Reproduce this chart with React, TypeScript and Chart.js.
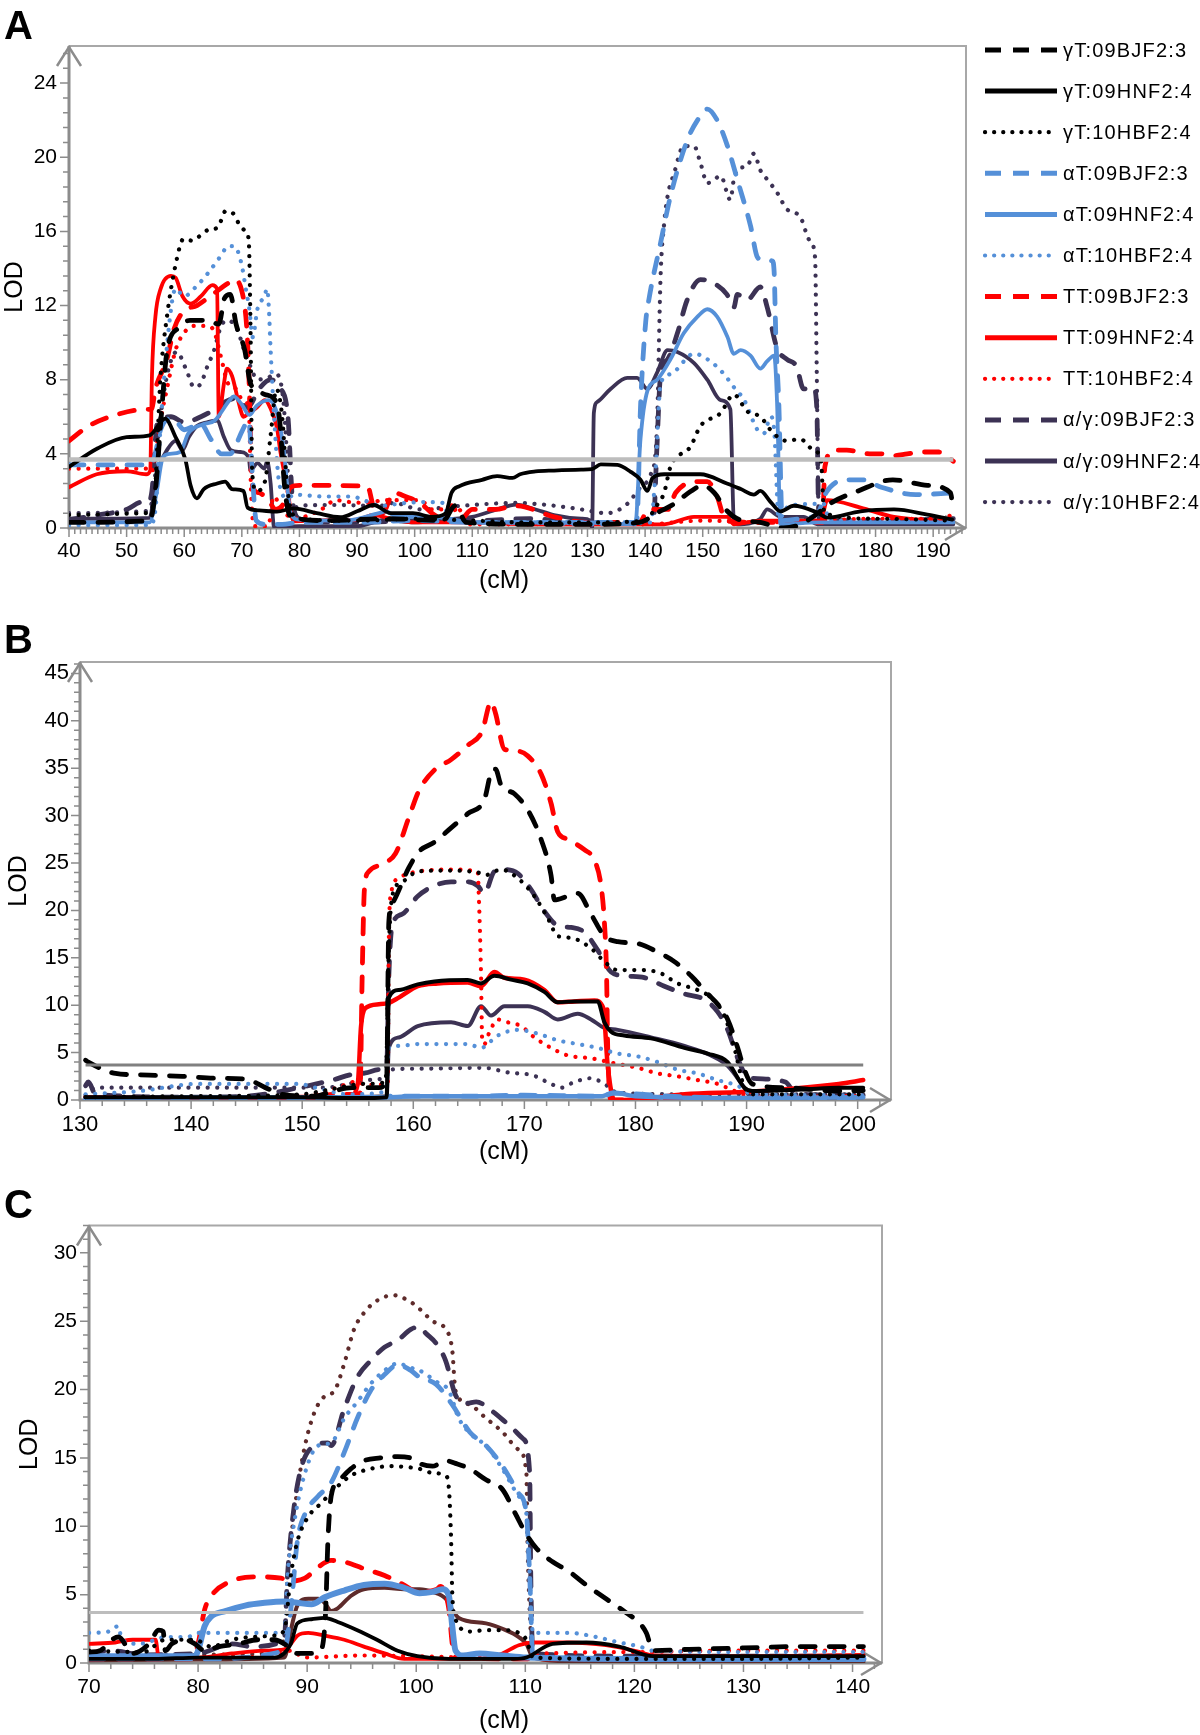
import React, { useEffect, useRef } from "react";
import { Chart, registerables } from "chart.js";

Chart.register(...registerables);

type Pt = [number, number];

// ---------------- labels / ticks ----------------
const SERIES_LABELS = [
  "γT:09BJF2:3", "γT:09HNF2:4", "γT:10HBF2:4",
  "αT:09BJF2:3", "αT:09HNF2:4", "αT:10HBF2:4",
  "TT:09BJF2:3", "TT:09HNF2:4", "TT:10HBF2:4",
  "α/γ:09BJF2:3", "α/γ:09HNF2:4", "α/γ:10HBF2:4",
];
const X_TITLE = "(cM)";
const Y_TITLE = "LOD";
const A_X_TICKS = [40, 50, 60, 70, 80, 90, 100, 110, 120, 130, 140, 150, 160, 170, 180, 190];
const A_Y_TICKS = [0, 4, 8, 12, 16, 20, 24];
const B_X_TICKS = [130, 140, 150, 160, 170, 180, 190, 200];
const B_Y_TICKS = [0, 5, 10, 15, 20, 25, 30, 35, 40, 45];
const C_X_TICKS = [70, 80, 90, 100, 110, 120, 130, 140];
const C_Y_TICKS = [0, 5, 10, 15, 20, 25, 30];
const LOD_THRESHOLD = 3.7;
const A_THRESH_X = [40, 193.5];
const B_THRESH_X = [130.5, 200.5];
const C_THRESH_X = [70, 141];

// ---------------- Panel A data (cM, LOD) ----------------
const A_gT_BJ: Pt[] = [[40,0.3],[54,0.4],[55,2],[56,6],[57,9.5],[59,10.8],[61,11.2],[64,11.2],[66,11],[67,12.4],[68,12.6],[69,11],[70.5,9.6],[71.5,7.8],[72.5,7.5],[74,7.2],[75.5,7],[76.5,6],[77.5,2],[78.5,0.6],[85,0.4],[95,0.5],[105,0.4],[107,1.2],[109,0.3],[120,0.2],[130,0.2],[139,0.3],[142,0.8],[145,1.3],[148,2],[150,2.3],[152,1.9],[154,1],[156,0.5],[160,0.3],[164,0],[167,0.2],[170,0.8],[172,1.3],[177,2],[183,2.6],[189,2.3],[193,1.9],[193.5,0.9]];
const A_gT_HN: Pt[] = [[40,3.3],[45,4.3],[50,4.9],[54,5.0],[56.7,5.9],[58.5,4.9],[60.2,3.7],[61.1,2.3],[62.2,1.6],[63.4,2.1],[65.7,2.4],[67.1,2.5],[68.3,2.1],[70.3,2.0],[71,1.1],[73,0.95],[76.1,0.88],[79,1.06],[83,0.8],[87.1,0.58],[90,0.9],[92.9,1.24],[95.8,0.8],[99.7,0.8],[103,0.6],[105.4,0.8],[106.4,1.9],[107.7,2.25],[111.7,2.6],[114.3,2.8],[117,2.7],[118.3,2.9],[121,3.05],[124.2,3.1],[128.9,3.15],[130.8,3.18],[132.3,3.43],[135.2,3.4],[137.5,3.03],[139.2,2.6],[140.4,2.0],[141.3,2.7],[143.3,2.9],[149.6,2.9],[154.2,2.4],[156.6,2.1],[158.9,1.8],[160,2.0],[161.8,1.4],[163.5,0.9],[165.8,1.2],[169.9,0.83],[171.6,0.56],[177.4,0.9],[183.2,1.0],[189,0.72],[193.3,0.45]];
const A_gT_HB: Pt[] = [[40,0.7],[53,0.8],[54.7,1.3],[55.9,8.2],[57,11.4],[58.5,14.2],[59.9,15.6],[61.4,15.5],[62.9,15.8],[64.3,16.1],[65.8,16.2],[67.2,17.1],[68.7,16.9],[69.5,16.4],[70.7,16],[71.2,15.5],[71.5,11],[71.8,3],[72.5,2],[74,2.5],[75,5],[76,7.5],[77,6],[77.8,2.5],[78.5,1],[80,0.5],[90,0.4],[100,0.5],[110,0.4],[120,0.3],[130,0.3],[140,0.4],[142,1.2],[143.3,1.9],[144.4,3.3],[147.9,4.4],[149.6,5.5],[153.1,6.2],[155.4,7.2],[157.7,6.3],[160,6.0],[162.3,5.1],[164.6,4.7],[166.9,4.8],[169.2,4.2],[170.5,3.7],[171.1,0.8],[180,0.5],[193.5,0.4]];
const A_aT_BJ: Pt[] = [[40,3.4],[54,3.4],[54.8,3.8],[55.9,5.3],[57.5,5.9],[58.5,5.8],[60,5.3],[61.7,5.5],[62.9,5.6],[64.6,4.8],[66.5,4.0],[68,4.0],[69,4.5],[70,5.2],[71.2,5.8],[71.8,3],[72.5,0.4],[74,0.2],[77,0.2],[80,0.3],[90,0.3],[100,0.4],[110,0.3],[120,0.3],[130,0.3],[138,0.3],[138.6,0.5],[139.2,6.5],[140.1,11.1],[140.7,12.4],[142.7,15.4],[144.4,17.9],[147.3,20.9],[149.1,22],[150.8,22.6],[152.5,22],[154.3,20.6],[156,18.8],[158.3,16.3],[159.5,14.6],[160.1,14.5],[162.1,14.4],[162.4,13.8],[162.7,10.2],[163.2,6.8],[163.8,0.4],[167,0.5],[170,0.8],[171.4,1.9],[174.9,2.6],[177.7,2.6],[181,2.2],[187,1.8],[193.5,1.9]];
const A_aT_HN: Pt[] = [[40,0.3],[54,0.3],[55.2,1.9],[56.3,3.8],[57.5,4.0],[59.3,4.1],[60.7,5.1],[63.3,5.6],[65.3,5.8],[67.9,6.9],[68.6,7.1],[69.9,6.7],[71.3,6.1],[72.6,6.6],[74.6,6.9],[75.9,6.4],[77.2,4.4],[78.5,0.8],[79.9,0.45],[88,0.4],[93.8,0.8],[95,0.9],[97,0.6],[103,0.6],[106,0.5],[110,0.3],[120,0.3],[130,0.3],[138.3,0.2],[139.2,4.8],[140.4,7.4],[142.1,8],[144.4,9.1],[146.7,10.5],[149.1,11.4],[150.8,11.8],[152.5,11.4],[154.3,10.3],[155.4,9.4],[156.6,9.6],[158.3,9.3],[160,8.6],[161.2,9.0],[162.4,9.3],[162.9,6.8],[163.5,0.2],[170,0.3],[180,0.3],[193.5,0.3]];
const A_aT_HB: Pt[] = [[40,0.15],[54,0.15],[55,1],[56,6],[57.7,11.8],[58.5,12.9],[60,12.5],[62,13.0],[64,13.7],[66.4,14.7],[67.6,15.2],[68.7,15.2],[69.9,14.3],[70.7,12.9],[71.3,11.8],[71.9,10.3],[72.7,11.8],[73.9,12.5],[74.4,12.9],[74.7,11.8],[75,9.6],[75.6,6.0],[76.5,2.4],[78,1.6],[79,1.8],[84.6,1.7],[88.8,1.7],[94.4,1.2],[97,1.3],[101,1.4],[105,1.35],[106,0.4],[110,0.3],[120,0.3],[130,0.2],[141,0.3],[141.8,3],[142.7,7.8],[144.4,8.3],[148.5,9.4],[151.3,9.0],[153.7,8.3],[155.4,7.6],[157.2,6.9],[159.5,5.3],[160.6,5.1],[161.8,6.0],[162.4,5.3],[163.2,0.5],[165,1.2],[171,1.3],[172,0.4],[193.5,0.35]];
const A_TT_BJ: Pt[] = [[40,4.7],[43.4,5.5],[48.1,6.1],[53.4,6.4],[54.3,6.4],[55,7.5],[57,9.1],[58.2,10.7],[59.9,11.7],[62.2,12.0],[64.5,12.5],[67.6,13.2],[68.7,13.4],[69.9,12.9],[70.7,11.4],[71,10],[71.3,7.5],[71.6,3.9],[71.9,2.2],[73,1.9],[74.6,1.5],[75.9,1.0],[77,1.2],[78.5,2.2],[80,2.3],[91.8,2.25],[93,1.0],[94.4,0.8],[96.4,1.9],[98.4,1.7],[101,1.35],[103,0.8],[105,0.5],[106.4,1.2],[108,0.5],[110,1.0],[114,1.0],[117.6,1.2],[124.2,0.6],[130,0.3],[139,0.3],[140.6,1.0],[144,1.0],[145.3,1.9],[149.4,2.5],[150.8,2.5],[152.5,1.7],[154,0.4],[160,0.3],[170.8,0.3],[171.2,3.3],[172.8,4.2],[175,4.2],[179,4.0],[181.5,4.0],[183,3.9],[185.5,4.0],[188,4.1],[191,4.1],[193.5,3.6]];
const A_TT_HN: Pt[] = [[40,2.2],[44.8,2.9],[50,3.06],[53.4,2.9],[54.1,3.1],[54.4,8.2],[55,11.4],[55.9,12.9],[57.7,13.6],[58.5,13.5],[59.7,12.5],[61.1,12.1],[62.9,12.5],[64.9,13.1],[65.7,12.9],[66,6.0],[66.9,7.8],[67.4,8.6],[68.3,8.2],[69.5,6.7],[70.3,6.0],[71.2,6.2],[72.6,6.5],[74,6.9],[74.9,6.5],[76.1,5.4],[76.7,4.1],[77.8,2.3],[79,0.36],[85,0.43],[90,0.45],[92.9,0.7],[95.8,0.5],[100,0.3],[110,0.3],[120,0.2],[130,0.2],[140,0.2],[143.3,0.2],[148.5,0.6],[154.3,0.6],[155.4,0.2],[160,0.4],[170.5,0.4],[171.6,1.5],[177.4,1.1],[183.2,0.6],[193.3,0.35]];
const A_TT_HB: Pt[] = [[40,3.2],[53.4,3.2],[54.3,3.0],[55,4],[56,6],[57,7.5],[58.5,9.6],[59.9,10.5],[61.7,10.9],[64,10.9],[65.2,10.6],[66.4,9.2],[67.6,7.8],[68.7,7.6],[70.2,6.9],[71.2,6.5],[71.6,2],[72.1,0.1],[74.6,0.1],[75.5,1.7],[77,1.0],[79,0.5],[83.8,1.0],[86.3,1.5],[88.7,1.4],[91.8,1.35],[94.6,1.5],[97.7,1.5],[101,1.5],[103,1.0],[107.7,1.0],[109,0.2],[120,0.2],[130,0.3],[140,0.2],[150,0.4],[160,0.3],[170,0.4],[180,0.5],[190,0.5],[193.5,0.7]];
const A_ag_BJ: Pt[] = [[40,0.45],[45,0.7],[50,1.0],[52.7,1.4],[53.7,1.4],[54.4,2],[55.3,5.6],[57.7,6.0],[60,5.7],[62.9,6.0],[65.8,6.5],[67.1,6.8],[69,7],[71,6.5],[73,7.5],[75,8],[76.5,7.6],[78,6],[78.8,1.5],[80,0.5],[90,0.3],[100,0.4],[110,0.4],[120,0.5],[130,0.3],[140,0.3],[141.5,0.6],[142,4],[142.7,8.3],[143.9,9.1],[145.6,10.5],[147.3,12.3],[149.6,13.4],[151.3,13.3],[154.2,12.6],[155.4,11.9],[156,12.6],[157.7,12.3],[160,13],[161.2,11.9],[162.9,9.7],[164.6,9.1],[166.3,8.7],[167.5,7.5],[169.2,7.6],[169.8,6.5],[170.1,1.1],[170.4,0.4],[180,0.4],[193.5,0.5]];
const A_ag_HN: Pt[] = [[40,0.5],[54,0.55],[55,2.4],[55.9,3.5],[57,4.2],[58.5,4.7],[59.7,4.2],[60.8,4.9],[62.2,5.5],[64,5.7],[65.7,5.8],[66.9,4.9],[68.1,4.2],[69.8,4.1],[71.2,3.8],[71.5,3.1],[72.7,3.5],[73.9,3.2],[74.4,3.6],[75,2.4],[75.6,0.05],[80,0.1],[90,0.1],[95,0.45],[100,0.3],[105,0.45],[110,0.6],[114.3,1.0],[117.6,1.26],[121,1.0],[124.2,0.7],[128.9,0.5],[130.5,0.4],[130.8,0.0],[131.1,6.2],[131.7,6.8],[134,7.5],[136.9,8.1],[138.6,8.1],[140.4,7.5],[142.1,8.4],[143.9,9.6],[145.6,9.5],[148.5,8.9],[150.8,8.0],[153.1,6.9],[154.8,6.4],[155.4,0.4],[156,0.2],[160,0.5],[161.2,1.0],[163.5,0.6],[167.5,0.6],[169.9,0.2],[193.5,0.2]];
const A_ag_HB: Pt[] = [[40,0.8],[53,0.9],[54.5,1.5],[55.5,5],[57,8.2],[58.7,9.5],[60.4,8.5],[61.7,7.6],[62.9,7.8],[64,8.7],[65.2,9.6],[66.4,10.9],[67.6,11.2],[69.2,10.7],[70.4,9.6],[71.5,8.7],[72.7,8.0],[74.4,8.1],[76,8.3],[77.2,6.9],[77.8,4.1],[78.4,0.9],[80,1.2],[86.1,1.24],[94,1.2],[96.4,1.35],[101,1.0],[108,1.2],[117.6,1.35],[124.2,1.2],[129,1.0],[133.4,0.8],[136.9,1.3],[139.2,2.2],[141,2.9],[142,5],[142.7,13.7],[143.3,16.4],[143.9,17.9],[145,19.1],[146.7,20.6],[148.5,20.6],[149.6,19.7],[150.8,18.6],[152,18.8],[153.1,19.0],[154.8,17.7],[155.4,18.8],[156.3,19.4],[157.7,19.5],[158.9,20.2],[160,19.3],[161.2,18.8],[162.9,18.1],[164.6,17.2],[166.9,16.8],[168.6,15.5],[169.5,14.6],[169.8,8.3],[170.1,1.1],[170.4,0.3],[180,0.4],[193.5,0.3]];

// ---------------- Panel B data ----------------
const B_gT_BJ: Pt[] = [[130.5,4.2],[130.75,4.0],[133.2,2.8],[135.3,2.66],[139.2,2.5],[142.2,2.3],[144.9,2.2],[146.7,1.3],[148.2,0.6],[151.2,0.4],[152.7,0.9],[154.5,1.3],[156.9,1.3],[157.6,2.1],[157.8,18.8],[158.1,20.7],[159.6,24.5],[160.5,26.2],[161.9,27.2],[163.4,28.7],[164.9,30.2],[166.4,31.7],[167.1,34.8],[167.4,34.9],[167.9,33.2],[169.1,32.3],[170.3,30.6],[171.5,27.5],[172.4,23.7],[172.7,21.1],[173.9,21.5],[174.8,21.8],[176,19.6],[177.2,17.3],[178.4,16.7],[180.2,16.5],[182,15.6],[183.5,14.6],[185,13.1],[186.5,11.2],[187.4,10.1],[188.3,8.5],[189.2,5.5],[189.8,3.2],[190.5,1.7],[193.5,1.3],[198.3,0.95],[200.5,1.0]];
const B_gT_HN: Pt[] = [[130.5,0.3],[140,0.3],[150,0.3],[155,0.2],[157.6,0.3],[157.8,10.8],[158.7,11.6],[160.4,12.2],[161.9,12.5],[164.9,12.65],[166.1,12.3],[167.3,13.1],[168.8,12.7],[170.3,12.3],[171.8,11.4],[173,10.3],[174.5,10.4],[176.6,10.4],[177.2,8.2],[177.8,7.2],[179,6.8],[181.4,6.5],[184.4,5.5],[186.5,4.9],[188.3,4.0],[189.8,1.3],[190.5,0.95],[195,1.1],[198.3,1.3],[200.5,1.3]];
const B_gT_HB: Pt[] = [[130.5,0.3],[140,0.4],[150,0.6],[152,1.0],[155.7,1.7],[157.5,1.9],[157.8,16],[158.1,21.5],[159,23],[160.4,24.1],[163,24.2],[165.8,24.0],[166.4,23.7],[167.9,24.3],[169.4,23.4],[170.9,21.5],[172.1,19.2],[173,17.3],[174.2,17.1],[176,16.0],[177.2,14.6],[178.4,13.7],[180.2,13.7],[182,13.5],[183.8,12.3],[185.6,11.6],[186.8,10.8],[188,8.9],[188.9,5.5],[189.7,1.7],[190.5,0.6],[200.5,0.6]];
const B_aT_BJ: Pt[] = [[130.5,0.1],[140,0.2],[150,0.2],[157,0.2],[158,0.4],[165,0.4],[170,0.5],[177,0.4],[178,0.7],[185,0.3],[190,0.2],[200.5,0.2]];
const B_aT_HN: Pt[] = [[130.5,0.2],[140,0.3],[150,0.3],[157.8,0.3],[160,0.4],[170,0.4],[177,0.4],[178,0.8],[180,0.4],[190,0.2],[200.5,0.3]];
const B_aT_HB: Pt[] = [[130.5,0.6],[135,0.9],[140.7,1.7],[149.7,1.7],[151.2,1.3],[154.2,0.6],[157.5,0.9],[157.8,5.5],[158.7,5.7],[160.4,5.9],[164.9,5.9],[166.1,5.5],[167.6,6.8],[169.4,7.4],[171.2,7.0],[173,6.3],[174.8,5.9],[176.6,5.5],[178.4,4.9],[180.2,4.6],[182,4.0],[183.8,3.2],[185.6,2.8],[187.4,2.1],[189.2,1.5],[190.5,0.6],[200.5,0.5]];
const B_TT_BJ: Pt[] = [[130.5,0.2],[140,0.2],[150,0.3],[153,0.6],[155.2,0.6],[155.4,13.1],[155.6,22.2],[156,24.1],[157.2,24.9],[158.4,26],[159.6,29.8],[160.5,32.6],[161.9,34.8],[163.4,35.9],[164.9,37.4],[166.2,38.9],[167,42.0],[167.4,40.8],[168.2,37],[169.4,36.8],[170.3,36.3],[171.5,34.4],[172.4,31.3],[173,28.3],[173.9,27.5],[175.4,26.4],[176.3,25.3],[176.9,22.6],[177.2,18.8],[177.4,13.1],[177.5,5.5],[177.8,0],[185,0.1],[190,0.2],[200.5,0.4]];
const B_TT_HN: Pt[] = [[130.5,0.3],[140,0.3],[150,0.2],[154,0],[155,1.7],[155.3,7.8],[155.7,9.7],[156.9,10.1],[157.8,10.25],[158.7,10.8],[160.4,12.0],[162.2,12.3],[164.9,12.4],[166.1,12.0],[167.3,13.5],[168.2,12.9],[170,12.7],[171.8,11.6],[173,10.3],[174.5,10.4],[176.3,10.5],[177.1,9.7],[177.5,3.6],[178.1,0],[179,0],[184.4,0.6],[190.5,0.9],[198.3,1.7],[200.5,2.1]];
const B_TT_HB: Pt[] = [[130.5,0.3],[140,0.3],[150,0.5],[152.1,0.9],[153.6,1.5],[154.7,1.9],[156,1.6],[157.7,1.7],[157.8,16.9],[158,21.8],[158.7,23.4],[160.4,24.1],[163.4,24.3],[165.8,24.1],[165.9,21.5],[166.1,13.1],[166.2,6.3],[166.4,5.9],[166.8,7.0],[167.6,8.5],[168.5,8.2],[169.7,7.8],[170.9,6.6],[172.4,5.5],[173.9,4.7],[176,4.4],[178.4,3.8],[180.2,3.4],[182,2.8],[183.8,2.5],[185.6,2.1],[187.4,1.7],[188.9,0.95],[190.5,0.4],[200.5,0.4]];
const B_ag_BJ: Pt[] = [[130.5,1.5],[130.75,1.9],[131.4,0.6],[140,0.3],[145,0.4],[149.7,1.3],[152.7,2.1],[154.5,2.7],[155.7,2.85],[156.9,3.2],[157.6,3.3],[157.8,13.1],[158.1,18.4],[159,19.6],[160.4,21.5],[161.9,22.6],[163.4,23.0],[164.9,23.0],[165.8,22.6],[166.4,21.8],[167.3,24.1],[168.2,24.3],[169.4,23.9],[170.6,22.2],[171.8,19.9],[173,18.4],[174.2,18.2],[175.4,17.7],[176.6,15.8],[177.8,13.5],[179,13.1],[180.8,12.9],[182.6,12.0],[184.4,11.2],[186.2,10.6],[187.4,9.3],[188.3,7.4],[189.2,4.4],[190,2.5],[190.5,2.3],[193.5,1.9],[194.5,0.6],[200.5,0.5]];
const B_ag_HN: Pt[] = [[130.5,0.3],[140,0.3],[150,0.3],[157.6,0.4],[157.8,5.5],[158.7,6.6],[160.4,7.8],[163.4,8.2],[164.9,7.8],[166.1,9.9],[167,8.9],[168.2,9.9],[170.3,9.9],[171.8,9.3],[173,8.5],[174.8,9.1],[176,8.5],[177.2,7.6],[178.4,7.4],[181.4,6.6],[184.4,5.7],[186.8,4.7],[188.3,3.6],[189.8,1.3],[190.5,0.2],[200.5,0.3]];
const B_ag_HB: Pt[] = [[130.5,0.5],[131.4,1.3],[140,1.3],[152,1.3],[154.2,1.7],[155.7,2.1],[157.6,2.4],[157.8,3.2],[160.4,3.3],[166.4,3.4],[167.6,3.15],[168.8,2.85],[170.6,2.66],[172.4,1.7],[173.3,1.3],[174.5,1.9],[176,2.3],[177.2,1.7],[178.4,0.76],[185,0.6],[200.5,0.6]];

// ---------------- Panel C data ----------------
const C_gT_BJ: Pt[] = [[70,0.8],[71,0.9],[72.1,1.7],[72.7,1.9],[74,0.7],[75.5,1.4],[76.4,2.4],[76.8,2.3],[77,0.9],[77.6,1.4],[78.8,1.7],[79.7,1.4],[80.6,0.9],[81.9,1.2],[83.7,1.4],[85.5,1.7],[87,1.7],[87.9,1.4],[89.1,0.7],[90.4,0.7],[91.3,1.0],[91.7,3.9],[91.9,8.9],[92.2,12.2],[92.8,13.2],[94,14.2],[95.2,14.8],[96.7,15.0],[98.3,15.1],[99.8,14.9],[100.3,14.6],[101.5,14.4],[102.7,14.8],[103.6,14.6],[104.9,14.2],[106.4,13.4],[107.9,12.7],[109.1,10.9],[110.1,9.4],[111,8.4],[112.5,7.4],[114,6.7],[115.6,5.7],[117.4,4.7],[119.2,3.7],[120.5,2.9],[121.1,2.2],[121.7,0.9],[125,1.0],[130,1.1],[135,1.2],[141,1.2]];
const C_gT_HN: Pt[] = [[70,0.3],[76,0.3],[80,0.4],[87,0.4],[88.5,1.4],[89.1,2.9],[90.4,3.2],[91.6,3.3],[92.8,3.0],[94.6,2.4],[96.4,1.7],[98.3,0.9],[100.1,0.5],[103,0.3],[109,0.3],[110.1,0.4],[112.5,1.4],[115.6,1.5],[118.6,1.2],[121.7,0.5],[130,0.5],[141,0.5]];
const C_gT_HB: Pt[] = [[70,0.9],[75,0.8],[77,1.7],[79.7,1.7],[81.2,1.2],[83.1,1.7],[84.9,1.9],[87,2.0],[87.9,2.4],[88.5,6.4],[89.1,8.9],[90.1,10.7],[91.3,11.7],[92.5,12.7],[94,13.7],[95.8,14.2],[97.7,14.4],[99.5,14.3],[100.3,14.2],[101.5,13.9],[102.7,13.7],[103,12.7],[103.2,8.9],[103.3,5.2],[103.6,3.2],[104.9,2.3],[106.4,2.4],[108.2,2.4],[109.4,2.2],[110.1,1.7],[110.7,0.4],[120,0.3],[130,0.3],[141,0.4]];
const C_aT_BJ: Pt[] = [[70,0.3],[80,0.3],[87.9,0.9],[88.5,3.9],[89.1,8.9],[89.8,10.9],[91,12.2],[92.2,13.2],[93.4,15.4],[94.6,17.9],[95.8,19.9],[97.1,21.1],[98.3,21.8],[99.5,21.4],[100.3,20.9],[101.8,20.4],[103.3,18.9],[104.9,16.9],[106.4,15.9],[107.9,14.4],[109.4,12.4],[110.1,10.9],[110.4,6.4],[110.7,0.4],[120,0.3],[130,0.3],[141,0.3]];
const C_aT_HN: Pt[] = [[70,0.5],[79.7,0.5],[80,0.9],[80.6,2.7],[81.2,3.4],[82.5,3.8],[84.3,4.2],[86.1,4.4],[87.9,4.5],[89.1,4.4],[90.4,4.3],[91.6,4.8],[93.4,5.3],[95.2,5.7],[97.1,5.8],[98.9,5.5],[100.3,5.1],[101.5,5.2],[102.4,5.4],[103,4.9],[103.3,2.7],[103.6,0.9],[104.3,0.55],[105.8,0.7],[107.9,0.55],[110.1,0.4],[120,0.3],[130,0.3],[141,0.3]];
const C_aT_HB: Pt[] = [[70,2.2],[71.8,2.3],[72.7,2.7],[73,1.7],[74.6,1.4],[76.1,1.7],[77,1.9],[79,1.9],[80,2.2],[87.9,2.2],[88.2,6.4],[88.8,10.2],[89.8,13.9],[91,15.9],[92.2,16.1],[93.4,17.9],[94.6,19.1],[95.8,20.4],[97.1,21.4],[98.3,21.9],[99.5,21.6],[100.3,21.4],[101.8,20.6],[103,19.9],[103.9,17.9],[105.2,16.6],[106.4,15.9],[107.9,14.2],[109.4,12.2],[110.1,10.9],[110.4,6.4],[110.7,2.2],[111.9,2.2],[114,2.2],[116.5,1.9],[118.6,1.5],[120.5,1.2],[121.7,0.9],[130,0.8],[141,0.8]];
const C_TT_BJ: Pt[] = [[70,0.3],[79.5,0.3],[80,1.4],[80.6,3.9],[81.2,4.9],[83.1,6.0],[85.5,6.3],[87.6,6.2],[88.5,6.0],[89.8,6.2],[91,7.0],[92.2,7.5],[93.4,7.4],[95.2,6.9],[97.1,6.4],[98.9,5.7],[100.1,5.2],[101.9,5.4],[102.2,5.6],[103,3.9],[103.3,1.4],[103.6,0.4],[110,0.3],[120,0.3],[130,0.3],[141,0.3]];
const C_TT_HN: Pt[] = [[70,1.4],[72.4,1.5],[74,1.7],[76.1,1.7],[76.4,0.4],[80,0.4],[83.1,0.7],[86.1,0.9],[87.9,1.0],[88.5,1.4],[89.1,2.0],[90.1,2.2],[91.6,2.0],[93.4,1.7],[95.2,1.2],[97.1,0.7],[98.9,0.3],[106,0.3],[107.9,0.7],[109.4,1.3],[110.7,1.5],[114,1.5],[117.4,1.3],[120.5,0.8],[121.7,0.55],[130,0.5],[141,0.6]];
const C_TT_HB: Pt[] = [[70,0.4],[80,0.4],[87,0.5],[88.5,0.9],[89.8,0.4],[95,0.55],[100,0.5],[105,0.4],[110,0.4],[112,0.7],[120,0.8],[130,0.9],[141,0.9]];
const C_ag_BJ: Pt[] = [[70,0.7],[72,0.9],[75,0.6],[80,0.7],[83.1,1.4],[84.9,1.2],[87.9,1.7],[88.2,6.4],[88.8,11.4],[89.5,14.4],[90.7,15.9],[91.9,16.1],[92.2,15.9],[93.4,18.6],[94.6,20.9],[95.8,22.1],[97.1,23.1],[98.3,23.6],[99.5,24.4],[100.3,24.6],[100.9,24.1],[101.8,23.4],[102.7,22.1],[103.6,19.6],[104.6,19.0],[105.5,19.1],[107,18.4],[108.5,17.4],[109.8,16.4],[110.4,13.9],[110.5,6.4],[110.7,0.7],[120,0.5],[130,0.5],[141,0.5]];
const C_ag_HN: Pt[] = [[70,0.2],[80,0.25],[87.9,0.4],[88.5,2.4],[89.1,4.2],[90.1,4.7],[91,4.7],[91.6,4.4],[92.2,3.8],[92.8,4.0],[94,4.9],[95.2,5.4],[97.1,5.5],[98.9,5.4],[100.3,5.4],[101.5,5.2],[102.7,4.7],[103.3,3.9],[103.9,3.3],[106.4,2.9],[108.2,2.4],[109.4,1.9],[110.1,1.4],[110.7,0.4],[115,0.1],[141,0.1]];
const C_ag_HB: Pt[] = [[70,0.6],[80,0.6],[87,0.7],[87.9,1.9],[88.2,6.4],[88.5,8.9],[89.1,12.7],[89.8,15.9],[90.7,18.4],[91.6,19.5],[92.5,19.9],[93.4,21.9],[94.3,24.4],[95.2,25.6],[96.4,26.5],[97.9,26.9],[99.5,26.4],[100.3,25.9],[101.5,25.0],[102.7,24.4],[103.3,22.9],[103.6,19.9],[104.9,18.9],[106.4,17.9],[107.9,16.9],[109.4,15.6],[110.1,13.9],[110.2,8.9],[110.4,3.9],[110.7,0.4],[120,0.3],[141,0.3]];

// ---------------- styling ----------------
const FONT = "'Liberation Sans', Arial, Helvetica, sans-serif";
const BLACK = "#000000";
const BLUE = "#5590D8";
const RED = "#FF0000";
const PURPLE = "#3C3254";
const BROWN = "#5E2B2B";
const KINDS = ["dash", "solid", "dot", "dash", "solid", "dot", "dash", "solid", "dot", "dash", "solid", "dot"];
const COLORS_AB = [BLACK, BLACK, BLACK, BLUE, BLUE, BLUE, RED, RED, RED, PURPLE, PURPLE, PURPLE];
const COLORS_C = [BLACK, BLACK, BLACK, BLUE, BLUE, BLUE, RED, RED, RED, PURPLE, BROWN, BROWN];

const framePlugin: any = {
  id: "frame",
  beforeDatasetsDraw(chart: any, _a: any, o: any) {
    const { ctx, chartArea } = chart;
    const { left, top, right, bottom } = chartArea;
    const xs = chart.scales.x;
    const ys = chart.scales.y;
    ctx.save();
    ctx.lineCap = "butt";
    ctx.strokeStyle = "#8c8c8c";
    ctx.lineWidth = 1.5;
    ctx.beginPath();
    const ny = Math.floor((ys.max - ys.min) / o.yMinor + 1e-6);
    for (let i = 0; i <= ny; i++) {
      const v = ys.min + i * o.yMinor;
      const p = ys.getPixelForValue(v);
      const major = o.yMajor.some((m: number) => Math.abs(m - v) < 1e-6);
      ctx.moveTo(left - (major ? 9 : 6), p);
      ctx.lineTo(left, p);
    }
    const nx = Math.floor((xs.max - xs.min) / o.xMinor + 1e-6);
    for (let i = 0; i <= nx; i++) {
      const v = xs.min + i * o.xMinor;
      const p = xs.getPixelForValue(v);
      const major = o.xMajor.some((m: number) => Math.abs(m - v) < 1e-6);
      ctx.moveTo(p, bottom);
      ctx.lineTo(p, bottom + (major ? 9 : 6));
    }
    ctx.stroke();
    ctx.strokeStyle = "#a8a8a8";
    ctx.lineWidth = 2;
    ctx.beginPath();
    ctx.moveTo(left, top);
    ctx.lineTo(right, top);
    ctx.lineTo(right, bottom);
    ctx.stroke();
    ctx.strokeStyle = "#8c8c8c";
    ctx.lineWidth = 3;
    ctx.beginPath();
    ctx.moveTo(left, bottom);
    ctx.lineTo(left, top);
    ctx.moveTo(left - 1.5, bottom);
    ctx.lineTo(right, bottom);
    ctx.stroke();
    ctx.lineWidth = 2.5;
    ctx.beginPath();
    ctx.moveTo(left - 12, top + 20);
    ctx.lineTo(left, top + 1);
    ctx.lineTo(left + 12, top + 20);
    ctx.moveTo(right - 21, bottom - 12);
    ctx.lineTo(right - 1, bottom);
    ctx.lineTo(right - 21, bottom + 12);
    ctx.stroke();
    ctx.restore();
  },
  afterDraw(chart: any, _a: any, o: any) {
    const ctx = chart.ctx;
    ctx.save();
    ctx.fillStyle = "#000";
    ctx.font = "bold 40px " + FONT;
    ctx.textBaseline = "alphabetic";
    ctx.textAlign = "left";
    ctx.fillText(o.letter, 4, o.letterBaseline);
    // x-axis title
    ctx.font = "25px " + FONT;
    ctx.textAlign = "center";
    ctx.textBaseline = "middle";
    ctx.fillText(o.xTitle, o.xTitleX, o.xTitleY);
    if (o.legend) {
      const items = chart.data.datasets.filter((d: any) => d.kind);
      items.forEach((d: any, i: number) => {
        const y = o.legendY0 + i * o.legendStep;
        ctx.save();
        ctx.strokeStyle = d.borderColor;
        if (d.kind === "dash") {
          ctx.lineWidth = 5;
          ctx.setLineDash([16, 12]);
          ctx.lineCap = "butt";
        } else if (d.kind === "dot") {
          ctx.lineWidth = 4.2;
          ctx.setLineDash([0.1, 9]);
          ctx.lineCap = "round";
        } else {
          ctx.lineWidth = 5;
          ctx.setLineDash([]);
          ctx.lineCap = "butt";
        }
        ctx.beginPath();
        ctx.moveTo(o.legendX0, y);
        ctx.lineTo(o.legendX1, y);
        ctx.stroke();
        ctx.restore();
        ctx.save();
        ctx.fillStyle = "#000";
        ctx.font = "20px " + FONT;
        ctx.textAlign = "left";
        ctx.textBaseline = "middle";
        try { (ctx as any).letterSpacing = "1.2px"; } catch (e) { /* ignore */ }
        ctx.fillText(d.label, o.legendTextX, y + 1);
        ctx.restore();
      });
    }
    ctx.restore();
  },
};

interface PanelCfg {
  top: number;
  height: number;
  letter: string;
  letterBaseline: number;
  series: Pt[][];
  colors: string[];
  solidWidths: number[];
  xMin: number; xMax: number; yMax: number;
  xTicks: number[]; yTicks: number[];
  xMinor: number; yMinor: number;
  threshX: number[]; threshColor: string; threshWidth: number;
  yAxisWidth: number; xAxisHeight: number; padTop: number; padRight: number;
  tickFont: number; tickPadX: number; tickPadY: number; lodPad: number;
  xTitleY: number;
  legend: boolean;
}

const PANEL_A: PanelCfg = {
  top: 0, height: 610, letter: "A", letterBaseline: 39,
  series: [A_gT_BJ, A_gT_HN, A_gT_HB, A_aT_BJ, A_aT_HN, A_aT_HB, A_TT_BJ, A_TT_HN, A_TT_HB, A_ag_BJ, A_ag_HN, A_ag_HB],
  colors: COLORS_AB, solidWidths: [3.8, 3.8, 3.8, 3.8],
  xMin: 40, xMax: 195.7, yMax: 26, xTicks: A_X_TICKS, yTicks: A_Y_TICKS, xMinor: 1, yMinor: 0.8,
  threshX: A_THRESH_X, threshColor: "#BDBDBD", threshWidth: 4.5,
  yAxisWidth: 69, xAxisHeight: 82, padTop: 46, padRight: 234,
  tickFont: 21, tickPadX: 11, tickPadY: 12, lodPad: 0, xTitleY: 581, legend: true,
};
const PANEL_B: PanelCfg = {
  top: 610, height: 560, letter: "B", letterBaseline: 43,
  series: [B_gT_BJ, B_gT_HN, B_gT_HB, B_aT_BJ, B_aT_HN, B_aT_HB, B_TT_BJ, B_TT_HN, B_TT_HB, B_ag_BJ, B_ag_HN, B_ag_HB],
  colors: COLORS_AB, solidWidths: [4, 4.5, 4.5, 4],
  xMin: 130, xMax: 203, yMax: 46.2, xTicks: B_X_TICKS, yTicks: B_Y_TICKS, xMinor: 2, yMinor: 1,
  threshX: B_THRESH_X, threshColor: "#808080", threshWidth: 3,
  yAxisWidth: 80, xAxisHeight: 70, padTop: 52, padRight: 309,
  tickFont: 22, tickPadX: 12, tickPadY: 11, lodPad: 4, xTitleY: 542.5, legend: false,
};
const PANEL_C: PanelCfg = {
  top: 1170, height: 565, letter: "C", letterBaseline: 48,
  series: [C_gT_BJ, C_gT_HN, C_gT_HB, C_aT_BJ, C_aT_HN, C_aT_HB, C_TT_BJ, C_TT_HN, C_TT_HB, C_ag_BJ, C_ag_HN, C_ag_HB],
  colors: COLORS_C, solidWidths: [3.8, 6, 3.8, 4],
  xMin: 70, xMax: 142.7, yMax: 32, xTicks: C_X_TICKS, yTicks: C_Y_TICKS, xMinor: 2, yMinor: 1,
  threshX: C_THRESH_X, threshColor: "#BDBDBD", threshWidth: 3,
  yAxisWidth: 89, xAxisHeight: 72, padTop: 55.5, padRight: 318,
  tickFont: 21, tickPadX: 12, tickPadY: 12, lodPad: 15, xTitleY: 551.5, legend: false,
};

function Panel({ cfg }: { cfg: PanelCfg }) {
  const ref = useRef<HTMLCanvasElement | null>(null);
  useEffect(() => {
    const canvas = ref.current;
    if (!canvas) return;
    const datasets: any[] = [
      {
        label: "LOD threshold",
        data: cfg.threshX.map((x) => ({ x, y: LOD_THRESHOLD })),
        showLine: true,
        borderColor: cfg.threshColor,
        borderWidth: cfg.threshWidth,
        pointRadius: 0,
        pointHoverRadius: 0,
        borderCapStyle: "butt",
        order: -1,
      },
    ];
    cfg.series.forEach((s, i) => {
      const kind = KINDS[i];
      const group = Math.floor(i / 3);
      datasets.push({
        label: SERIES_LABELS[i],
        kind,
        data: s.map(([x, y]) => ({ x, y })),
        showLine: true,
        borderColor: cfg.colors[i],
        borderWidth: kind === "dash" ? 4.8 : kind === "dot" ? 4.2 : cfg.solidWidths[group],
        borderDash: kind === "dash" ? [15, 14] : kind === "dot" ? [0.1, 9.5] : [],
        borderCapStyle: "round",
        borderJoinStyle: "round",
        pointRadius: 0,
        pointHoverRadius: 0,
        cubicInterpolationMode: "monotone",
        tension: 0.3,
        fill: false,
      });
    });
    const tickFont = { family: FONT, size: cfg.tickFont };
    const titleFont = { family: FONT, size: 25 };
    const chart = new Chart(canvas, {
      type: "scatter",
      data: { datasets },
      options: {
        responsive: false,
        animation: false,
        devicePixelRatio: 1,
        events: [],
        layout: { padding: { left: 0, top: cfg.padTop, right: cfg.padRight, bottom: 0 } },
        plugins: {
          legend: { display: false },
          tooltip: { enabled: false },
          frame: {
            letter: cfg.letter,
            letterBaseline: cfg.letterBaseline,
            xMinor: cfg.xMinor,
            yMinor: cfg.yMinor,
            xMajor: cfg.xTicks,
            yMajor: cfg.yTicks,
            xTitle: X_TITLE,
            xTitleX: 504,
            xTitleY: cfg.xTitleY,
            legend: cfg.legend,
            legendY0: 50,
            legendStep: 41.1,
            legendX0: 985,
            legendX1: 1057,
            legendTextX: 1063,
          },
        } as any,
        scales: {
          x: {
            type: "linear",
            min: cfg.xMin,
            max: cfg.xMax,
            afterBuildTicks: (s: any) => {
              s.ticks = cfg.xTicks.map((v) => ({ value: v }));
            },
            afterFit: (s: any) => {
              s.height = cfg.xAxisHeight;
            },
            grid: { display: false, drawTicks: false },
            border: { display: false },
            ticks: { font: tickFont, color: "#000", padding: cfg.tickPadX, maxRotation: 0, autoSkip: false },
            title: { display: false },
          },
          y: {
            type: "linear",
            min: 0,
            max: cfg.yMax,
            afterBuildTicks: (s: any) => {
              s.ticks = cfg.yTicks.map((v) => ({ value: v }));
            },
            afterFit: (s: any) => {
              s.width = cfg.yAxisWidth;
            },
            grid: { display: false, drawTicks: false },
            border: { display: false },
            ticks: { font: tickFont, color: "#000", padding: cfg.tickPadY, autoSkip: false },
            title: { display: true, text: Y_TITLE, font: titleFont, color: "#000", padding: { top: cfg.lodPad, bottom: 0 } },
          },
        } as any,
      } as any,
      plugins: [framePlugin],
    });
    return () => chart.destroy();
  }, [cfg]);
  return (
    <canvas
      ref={ref}
      width={1200}
      height={cfg.height}
      style={{ position: "absolute", left: 0, top: cfg.top, width: 1200, height: cfg.height }}
    />
  );
}

export default function App() {
  return (
    <div style={{ position: "absolute", left: 0, top: 0, width: 1200, height: 1735, background: "#fff", overflow: "hidden" }}>
      <Panel cfg={PANEL_A} />
      <Panel cfg={PANEL_B} />
      <Panel cfg={PANEL_C} />
    </div>
  );
}
